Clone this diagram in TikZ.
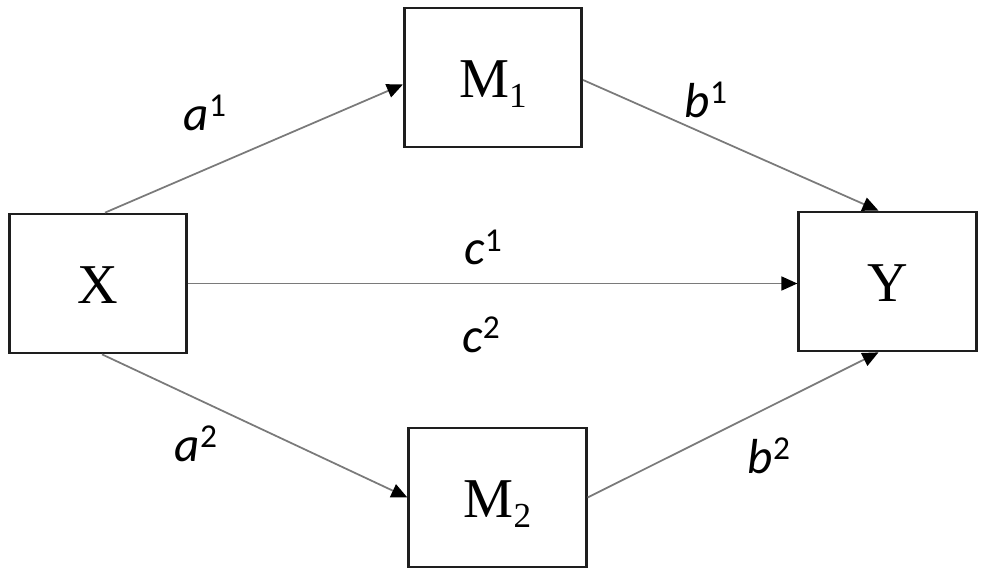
\documentclass[tikz,border=0pt]{standalone}
\usepackage{fontspec}
\setmainfont{Liberation Serif}
\newfontfamily\coeffont{Carlito}
\usetikzlibrary{arrows.meta}
\definecolor{edgegray}{HTML}{7A7A7A}
\definecolor{boxline}{HTML}{1E1E1E}
\newcommand{\coef}[2]{{\coeffont\fontsize{28}{28}\selectfont\itshape #1\raisebox{0.28cm}{\upshape\fontsize{19}{19}\selectfont #2}}}
\newcommand{\mvar}[2]{#1\raisebox{-0.2cm}{\fontsize{20}{20}\selectfont #2}}
\begin{document}
\begin{tikzpicture}[x=0.02cm,y=-0.02cm,
  box/.style={draw=boxline,line width=0.055cm,minimum width=3.55cm,minimum height=2.78cm,
    inner sep=0pt,text height=0.8cm,text depth=0cm,font=\fontsize{32}{32}\selectfont},
  link/.style={draw=edgegray,line width=0.035cm,-{Triangle[length=0.32cm,width=0.28cm,color=black]}},
  coeff/.style={anchor=base,inner sep=0pt}]
\useasboundingbox (0,0) rectangle (986,577);

\node[box] (X) at (98,283.5) {X};
\node[box] (M1) at (493,77.5) {\mvar{M}{1}};
\node[box] (M2) at (497.5,497.5) {\mvar{M}{2}};
\node[box] (Y) at (887.5,281.5) {Y};

\path[link] ([xshift=0.14cm]X.north) -- ([yshift=-0.14cm]M1.west);
\path[link] ([yshift=-0.05cm]M1.east) -- ([xshift=-0.18cm]Y.north);
\path[link] (X.east) -- (X.east -| Y.west);
\path[link] ([xshift=0.08cm]X.south) -- (M2.west);
\path[link] (M2.east) -- ([xshift=-0.18cm]Y.south);

\node[coeff] (a1) at (205,131) {\coef{a}{1}};
\node[coeff] (b1) at (706,118) {\coef{b}{1}};
\node[coeff] (c1) at (483,265) {\coef{c}{1}};
\node[coeff] (c2) at (481,352) {\coef{c}{2}};
\node[coeff] (a2) at (196,461) {\coef{a}{2}};
\node[coeff] (b2) at (769,473) {\coef{b}{2}};
\end{tikzpicture}
\end{document}
